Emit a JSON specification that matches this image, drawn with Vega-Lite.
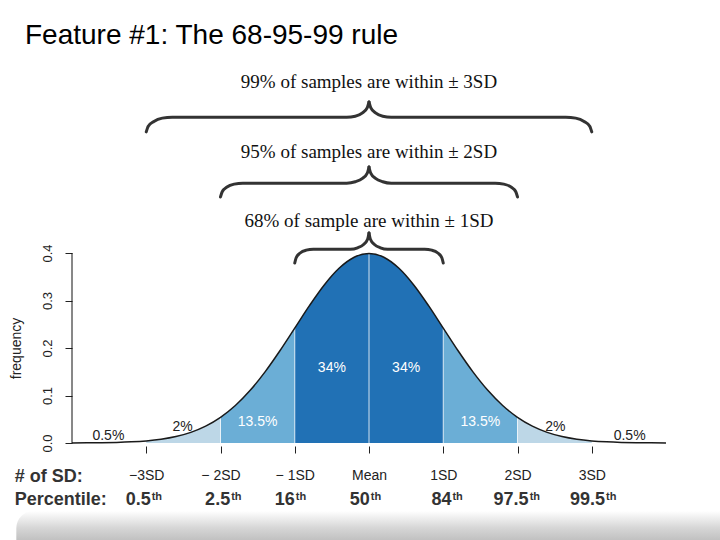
{
  "$schema": "https://vega.github.io/schema/vega-lite/v6.json",
  "autosize": {"type": "none"},
  "padding": {"left": 72, "top": 63, "right": 54, "bottom": 97},
  "width": 594,
  "height": 380,
  "background": "white",
  "config": {"view": {"stroke": null}, "font": "Liberation Sans"},
  "title": {
    "text": "Feature #1: The 68-95-99 rule",
    "anchor": "start",
    "frame": "group",
    "dx": -47,
    "dy": 30,
    "offset": 21,
    "fontSize": 28,
    "fontWeight": "normal",
    "font": "Liberation Sans",
    "color": "#000000",
    "baseline": "alphabetic"
  },
  "datasets": {
    "curve": [
      {"x": -4.0, "y": 0.000134}, {"x": -3.8, "y": 0.000292}, {"x": -3.6, "y": 0.000612},
      {"x": -3.4, "y": 0.001232}, {"x": -3.2, "y": 0.002384}, {"x": -3.0, "y": 0.004432},
      {"x": -2.8, "y": 0.007915}, {"x": -2.6, "y": 0.013583}, {"x": -2.4, "y": 0.022395},
      {"x": -2.2, "y": 0.035475}, {"x": -2.0, "y": 0.053991}, {"x": -1.8, "y": 0.07895},
      {"x": -1.6, "y": 0.110921}, {"x": -1.4, "y": 0.149727}, {"x": -1.2, "y": 0.194186},
      {"x": -1.0, "y": 0.241971}, {"x": -0.8, "y": 0.289692}, {"x": -0.6, "y": 0.333225},
      {"x": -0.4, "y": 0.36827}, {"x": -0.2, "y": 0.391043}, {"x": 0.0, "y": 0.398942},
      {"x": 0.2, "y": 0.391043}, {"x": 0.4, "y": 0.36827}, {"x": 0.6, "y": 0.333225},
      {"x": 0.8, "y": 0.289692}, {"x": 1.0, "y": 0.241971}, {"x": 1.2, "y": 0.194186},
      {"x": 1.4, "y": 0.149727}, {"x": 1.6, "y": 0.110921}, {"x": 1.8, "y": 0.07895},
      {"x": 2.0, "y": 0.053991}, {"x": 2.2, "y": 0.035475}, {"x": 2.4, "y": 0.022395},
      {"x": 2.6, "y": 0.013583}, {"x": 2.8, "y": 0.007915}, {"x": 3.0, "y": 0.004432},
      {"x": 3.2, "y": 0.002384}, {"x": 3.4, "y": 0.001232}, {"x": 3.6, "y": 0.000612},
      {"x": 3.8, "y": 0.000292}, {"x": 4.0, "y": 0.000134}
    ],
    "braces": [
      {"b": 1, "s": "L", "x": -3, "y": 0.655}, {"b": 1, "s": "L", "x": -2.973, "y": 0.667},
      {"b": 1, "s": "L", "x": -2.897, "y": 0.677}, {"b": 1, "s": "L", "x": -2.784, "y": 0.684},
      {"b": 1, "s": "L", "x": -2.65, "y": 0.686}, {"b": 1, "s": "L", "x": -0.3, "y": 0.686},
      {"b": 1, "s": "L", "x": -0.185, "y": 0.688}, {"b": 1, "s": "L", "x": -0.088, "y": 0.695},
      {"b": 1, "s": "L", "x": -0.023, "y": 0.706}, {"b": 1, "s": "L", "x": 0, "y": 0.718},
      {"b": 1, "s": "R", "x": 0, "y": 0.718}, {"b": 1, "s": "R", "x": 0.023, "y": 0.706},
      {"b": 1, "s": "R", "x": 0.088, "y": 0.695}, {"b": 1, "s": "R", "x": 0.185, "y": 0.688},
      {"b": 1, "s": "R", "x": 0.3, "y": 0.686}, {"b": 1, "s": "R", "x": 2.65, "y": 0.686},
      {"b": 1, "s": "R", "x": 2.784, "y": 0.684}, {"b": 1, "s": "R", "x": 2.897, "y": 0.677},
      {"b": 1, "s": "R", "x": 2.973, "y": 0.667}, {"b": 1, "s": "R", "x": 3, "y": 0.655},
      {"b": 2, "s": "L", "x": -2, "y": 0.518}, {"b": 2, "s": "L", "x": -1.977, "y": 0.529},
      {"b": 2, "s": "L", "x": -1.912, "y": 0.539}, {"b": 2, "s": "L", "x": -1.815, "y": 0.545},
      {"b": 2, "s": "L", "x": -1.7, "y": 0.547}, {"b": 2, "s": "L", "x": -0.3, "y": 0.547},
      {"b": 2, "s": "L", "x": -0.185, "y": 0.55}, {"b": 2, "s": "L", "x": -0.088, "y": 0.557},
      {"b": 2, "s": "L", "x": -0.023, "y": 0.568}, {"b": 2, "s": "L", "x": 0, "y": 0.581},
      {"b": 2, "s": "R", "x": 0, "y": 0.581}, {"b": 2, "s": "R", "x": 0.023, "y": 0.568},
      {"b": 2, "s": "R", "x": 0.088, "y": 0.557}, {"b": 2, "s": "R", "x": 0.185, "y": 0.55},
      {"b": 2, "s": "R", "x": 0.3, "y": 0.547}, {"b": 2, "s": "R", "x": 1.7, "y": 0.547},
      {"b": 2, "s": "R", "x": 1.815, "y": 0.545}, {"b": 2, "s": "R", "x": 1.912, "y": 0.539},
      {"b": 2, "s": "R", "x": 1.977, "y": 0.529}, {"b": 2, "s": "R", "x": 2, "y": 0.518},
      {"b": 3, "s": "L", "x": -1, "y": 0.379}, {"b": 3, "s": "L", "x": -0.981, "y": 0.39},
      {"b": 3, "s": "L", "x": -0.927, "y": 0.4}, {"b": 3, "s": "L", "x": -0.846, "y": 0.406},
      {"b": 3, "s": "L", "x": -0.75, "y": 0.408}, {"b": 3, "s": "L", "x": -0.25, "y": 0.408},
      {"b": 3, "s": "L", "x": -0.154, "y": 0.411}, {"b": 3, "s": "L", "x": -0.073, "y": 0.418},
      {"b": 3, "s": "L", "x": -0.019, "y": 0.429}, {"b": 3, "s": "L", "x": 0, "y": 0.442},
      {"b": 3, "s": "R", "x": 0, "y": 0.442}, {"b": 3, "s": "R", "x": 0.019, "y": 0.429},
      {"b": 3, "s": "R", "x": 0.073, "y": 0.418}, {"b": 3, "s": "R", "x": 0.154, "y": 0.411},
      {"b": 3, "s": "R", "x": 0.25, "y": 0.408}, {"b": 3, "s": "R", "x": 0.75, "y": 0.408},
      {"b": 3, "s": "R", "x": 0.846, "y": 0.406}, {"b": 3, "s": "R", "x": 0.927, "y": 0.4},
      {"b": 3, "s": "R", "x": 0.981, "y": 0.39}, {"b": 3, "s": "R", "x": 1, "y": 0.379}
    ],
    "notes": [
      {"t": "99% of samples are within ± 3SD", "x": 0, "y": 0.747},
      {"t": "95% of samples are within ± 2SD", "x": 0, "y": 0.6},
      {"t": "68% of sample are within ± 1SD", "x": 0, "y": 0.455}
    ],
    "pcts": [
      {"t": "0.5%", "x": -3.51, "y": 0.0137, "tone": "dark"},
      {"t": "2%", "x": -2.51, "y": 0.034, "tone": "dark"},
      {"t": "13.5%", "x": -1.5, "y": 0.044, "tone": "light"},
      {"t": "34%", "x": -0.5, "y": 0.158, "tone": "light"},
      {"t": "34%", "x": 0.5, "y": 0.158, "tone": "light"},
      {"t": "13.5%", "x": 1.5, "y": 0.044, "tone": "light"},
      {"t": "2%", "x": 2.51, "y": 0.034, "tone": "dark"},
      {"t": "0.5%", "x": 3.51, "y": 0.0137, "tone": "dark"}
    ],
    "rows": [
      {"t": "# of SD:", "x": -4.77, "y": -0.082},
      {"t": "Percentile:", "x": -4.77, "y": -0.1305}
    ],
    "ptiles": [
      {"t": "0.5", "x": -2.94, "y": -0.1305, "ty": -0.12},
      {"t": "2.5", "x": -1.87, "y": -0.1305, "ty": -0.12},
      {"t": "16", "x": -1.0, "y": -0.1305, "ty": -0.12},
      {"t": "50", "x": 0.01, "y": -0.1305, "ty": -0.12},
      {"t": "84", "x": 1.11, "y": -0.1305, "ty": -0.12},
      {"t": "97.5", "x": 2.15, "y": -0.1305, "ty": -0.12},
      {"t": "99.5", "x": 3.18, "y": -0.1305, "ty": -0.12}
    ],
    "yaxis": [{"x": -4, "y": 0, "y2": 0.4}],
    "bottomshade": [{"x": -4.75, "x2": 4.95, "y": -0.143, "y2": -0.215}]
  },
  "encoding": {
    "x": {
      "field": "x",
      "type": "quantitative",
      "scale": {"domain": [-4, 4], "nice": false, "zero": false},
      "axis": {
        "title": null,
        "values": [-3, -2, -1, 0, 1, 2, 3],
        "labelExpr": "['−3SD','− 2SD','− 1SD','Mean','1SD','2SD','3SD'][datum.value + 3]",
        "domain": false,
        "grid": false,
        "offset": 3,
        "tickSize": 7,
        "tickColor": "#222222",
        "labelFontSize": 14,
        "labelColor": "#222222",
        "labelBaseline": "alphabetic",
        "labelPadding": 26,
        "labelFlush": false,
        "labelOverlap": false
      }
    },
    "y": {
      "field": "y",
      "type": "quantitative",
      "scale": {"domain": [0, 0.8], "nice": false},
      "axis": {
        "title": "frequency",
        "values": [0, 0.1, 0.2, 0.3, 0.4],
        "format": ".1f",
        "domain": false,
        "grid": false,
        "tickSize": 7,
        "tickColor": "#222222",
        "labelAngle": 270,
        "labelAlign": "center",
        "labelBaseline": "middle",
        "labelPadding": 18,
        "labelFontSize": 13,
        "labelColor": "#222222",
        "labelFlush": false,
        "labelOverlap": false,
        "titleFontSize": 14,
        "titleFontWeight": "normal",
        "titleColor": "#222222",
        "titleAngle": 270,
        "titleAlign": "center",
        "titleBaseline": "middle",
        "titleX": -56,
        "titleY": 285
      }
    }
  },
  "layer": [
    {
      "data": {"name": "bottomshade"},
      "mark": {
        "type": "rect",
        "cornerRadiusTopLeft": 30,
        "cornerRadiusTopRight": 30,
        "fill": {"gradient": "linear", "x1": 0, "y1": 0, "x2": 0, "y2": 1,
          "stops": [{"offset": 0, "color": "#ffffff"}, {"offset": 0.5, "color": "#d6d6d6"}, {"offset": 1, "color": "#b8b8b8"}]}
      },
      "encoding": {"x2": {"field": "x2"}, "y2": {"field": "y2"}}
    },
    {
      "data": {"name": "curve"},
      "transform": [{"filter": "datum.x >= -3 && datum.x <= 3"}],
      "mark": {"type": "area", "color": "#bdd7e7", "interpolate": "monotone"}
    },
    {
      "data": {"name": "curve"},
      "transform": [{"filter": "datum.x >= -2 && datum.x <= 2"}],
      "mark": {"type": "area", "color": "#6baed6", "interpolate": "monotone"}
    },
    {
      "data": {"name": "curve"},
      "transform": [{"filter": "datum.x >= -1 && datum.x <= 1"}],
      "mark": {"type": "area", "color": "#2171b5", "interpolate": "monotone"}
    },
    {
      "data": {"name": "curve"},
      "transform": [{"filter": "datum.x == -2 || datum.x == -1 || datum.x == 0 || datum.x == 1 || datum.x == 2"}],
      "mark": {"type": "rule", "color": "#ffffff", "strokeWidth": 1, "opacity": 0.8},
      "encoding": {"y2": {"datum": 0}}
    },
    {
      "data": {"name": "curve"},
      "mark": {"type": "line", "color": "#1a1a1a", "strokeWidth": 1.5, "interpolate": "monotone"}
    },
    {
      "data": {"name": "yaxis"},
      "mark": {"type": "rule", "color": "#111111", "strokeWidth": 1},
      "encoding": {"y2": {"field": "y2"}}
    },
    {
      "data": {"name": "braces"},
      "mark": {"type": "line", "color": "#333333", "strokeWidth": 3, "interpolate": "monotone", "strokeCap": "round", "strokeJoin": "round"},
      "encoding": {"detail": [{"field": "b"}, {"field": "s"}], "order": {"field": "x", "type": "quantitative"}}
    },
    {
      "data": {"name": "notes"},
      "mark": {"type": "text", "font": "Liberation Serif", "fontSize": 19, "align": "center", "baseline": "alphabetic", "color": "#111111"},
      "encoding": {"text": {"field": "t"}}
    },
    {
      "data": {"name": "pcts"},
      "mark": {"type": "text", "fontSize": 14, "align": "center", "baseline": "middle"},
      "encoding": {
        "text": {"field": "t"},
        "color": {"field": "tone", "type": "nominal", "scale": {"domain": ["light", "dark"], "range": ["#ffffff", "#222222"]}, "legend": null}
      }
    },
    {
      "data": {"name": "rows"},
      "mark": {"type": "text", "fontSize": 18, "fontWeight": "bold", "align": "left", "baseline": "alphabetic", "color": "#333333"},
      "encoding": {"text": {"field": "t"}}
    },
    {
      "data": {"name": "ptiles"},
      "mark": {"type": "text", "fontSize": 18, "fontWeight": "bold", "align": "right", "baseline": "alphabetic", "color": "#333333"},
      "encoding": {"text": {"field": "t"}}
    },
    {
      "data": {"name": "ptiles"},
      "mark": {"type": "text", "fontSize": 11, "fontWeight": "bold", "align": "left", "baseline": "alphabetic", "color": "#333333", "dx": 1},
      "encoding": {"text": {"value": "th"}, "y": {"field": "ty", "type": "quantitative"}}
    }
  ]
}
